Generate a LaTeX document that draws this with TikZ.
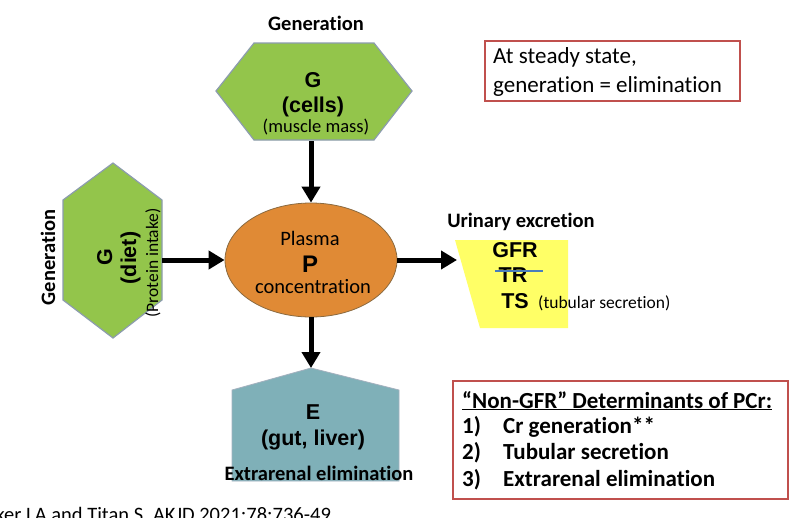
\documentclass[tikz,border=0pt]{standalone}
\usepackage{fontspec}
\setmainfont{Carlito}[Ligatures={NoCommon}]
\newfontfamily\arial{Liberation Sans}
\usetikzlibrary{arrows.meta,shapes.geometric}
\definecolor{hexgreen}{HTML}{93C54B}
\definecolor{hexedge}{HTML}{8C9CAE}
\definecolor{plorange}{HTML}{E08A35}
\definecolor{ploedge}{HTML}{8A6A40}
\definecolor{eteal}{HTML}{7FB0B8}
\definecolor{uyellow}{HTML}{FFFF66}
\definecolor{boxred}{HTML}{C0504D}
\definecolor{strike}{HTML}{4A7EBB}
\begin{document}
\begin{tikzpicture}[x=1pt,y=-1pt,
  lbl/.style={anchor=base,inner sep=0pt},
  lblw/.style={anchor=base west,inner sep=0pt},
  hd/.style={font=\fontsize{20.5}{24}\selectfont\bfseries},
  sm/.style={font=\fontsize{17.5}{21}\selectfont},
  ab/.style={font=\fontsize{21.5}{25}\selectfont\arial\bfseries},
  reg/.style={font=\fontsize{20.5}{24}\selectfont},
  bx/.style={font=\fontsize{23}{27}\selectfont},
  bxb/.style={font=\fontsize{23}{27}\selectfont\bfseries},
  flow/.style={line width=5pt,-{Triangle[length=16pt,width=18pt]}},
  redbox/.style={draw=boxred,line width=2pt,fill=white,rectangle,inner sep=0pt}]
\useasboundingbox (0,0) rectangle (802,517);
\clip (0,0) rectangle (802,517);
\fill[white] (0,0) rectangle (802,517);

% top hexagon (generation, cells)
\fill[hexgreen,draw=hexedge,line width=1.2pt] (216,91) -- (254,43) -- (374,43) -- (412,91) -- (374,140) -- (254,140) -- cycle;
\coordinate (gcb) at (311,141);
% left hexagon (diet)
\fill[hexgreen,draw=hexedge,line width=1.2pt] (113,163) -- (162,200) -- (162,300) -- (113,338) -- (63,300) -- (63,200) -- cycle;
\coordinate (gdr) at (162,260);
% plasma ellipse
\node[ellipse,fill=plorange,draw=ploedge,line width=0.8pt,minimum width=172pt,minimum height=114pt,inner sep=0pt] (pl) at (311,260) {};
% urinary trapezoid
\fill[uyellow] (455,240) -- (568,240) -- (568,328) -- (480,328) -- cycle;
\coordinate (ul) at (457,260);
% extrarenal pentagon
\fill[eteal,draw=hexedge!80,line width=0.8pt] (311,368) -- (399,390) -- (399,481) -- (232,481) -- (232,390) -- cycle;
\coordinate (et) at (311,368);

% arrows
\draw[flow] (gcb) -- (pl.north);
\draw[flow] (gdr) -- (pl.west);
\draw[flow] (pl.east) -- (ul);
\draw[flow] (pl.south) -- (et);

% texts top hexagon
\node[lbl,hd] (gen1) at (316,30) {Generation};
\node[lbl,ab] (g1) at (313,87) {G};
\node[lbl,ab] (cells) at (313,112) {(cells)};
\node[lbl,font=\fontsize{18.5}{22}\selectfont] (mm) at (316,132) {(muscle mass)};

% texts left hexagon
\node[lbl,hd,rotate=90] (gen2) at (55,257.5) {Generation};
\node[lbl,ab,rotate=90] (g2) at (112,257) {G};
\node[lbl,ab,rotate=90] (diet) at (136,258) {(diet)};
\node[lbl,sm,rotate=90] (prot) at (158,263) {(Protein intake)};

% ellipse texts
\node[lbl,reg] (plasma) at (310,245) {Plasma};
\node[lbl,font=\fontsize{24}{28}\selectfont\arial\bfseries] (p) at (310,272) {P};
\node[lbl,reg] (conc) at (313,293) {concentration};

% urinary texts
\node[lbl,hd] (ue) at (521,227) {Urinary excretion};
\node[lbl,ab] (gfr) at (515,257) {GFR};
\node[lbl,ab] (tr) at (513,282) {TR};
\node[lbl,ab] (ts) at (515,308) {TS};
\node[lblw,sm] (tsx) at (538,308) {(tubular secretion)};
\draw[strike,line width=2pt] ([xshift=-3pt,yshift=11pt]tr.base west) -- ([xshift=15pt,yshift=11pt]tr.base east);

% extrarenal texts
\node[lbl,ab] (e) at (313,419) {E};
\node[lbl,ab] (gl) at (313,445) {(gut, liver)};
\node[lbl,hd] (ee) at (319,480) {Extrarenal elimination};

% top red box
\node[redbox,minimum width=255pt,minimum height=60pt,anchor=north west] (box1) at (484,40) {};
\node[lblw,bx] (ss1) at (493,63) {At steady state,};
\node[lblw,bx] (ss2) at (493,92) {generation = elimination};

% bottom red box
\node[redbox,minimum width=335pt,minimum height=118pt,anchor=north west] (box2) at (452,380) {};
\node[lblw,bxb] (nh) at (462,408) {\underline{“Non-GFR” Determinants of PCr:}};
\node[lblw,bxb] (n1) at (462,433) {1)};
\node[lblw,bxb] (t1) at (503,433) {Cr generation**};
\node[lblw,bxb] (n2) at (462,459) {2)};
\node[lblw,bxb] (t2) at (503,459) {Tubular secretion};
\node[lblw,bxb] (n3) at (462,486) {3)};
\node[lblw,bxb] (t3) at (503,486) {Extrarenal elimination};

% citation
\node[lblw,reg] (cite) at (26,521) {\llap{Inker }LA and Titan S. AKJD 2021;78:736-49};
\end{tikzpicture}
\end{document}
